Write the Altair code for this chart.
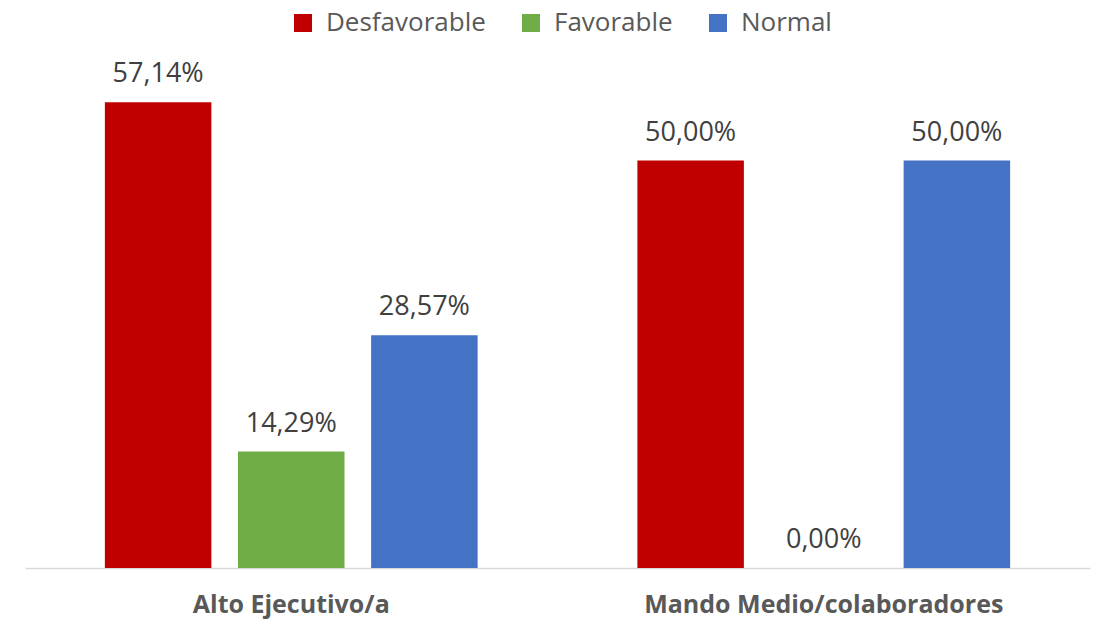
import altair as alt
import pandas as pd

categories = ["Alto Ejecutivo/a", "Mando Medio/colaboradores"]
series = ["Desfavorable", "Favorable", "Normal"]
values = {
    "Desfavorable": [57.14, 50.00],
    "Favorable": [14.29, 0.00],
    "Normal": [28.57, 50.00],
}
colors = ["#C00000", "#70AD47", "#4472C4"]

rows = []
for s in series:
    for c, v in zip(categories, values[s]):
        rows.append({"cat": c, "serie": s, "val": v,
                     "label": f"{v:.2f}".replace(".", ",") + "%"})
df = pd.DataFrame(rows)

FONT = "Open Sans"

base = alt.Chart(df).encode(
    x=alt.X("cat:N", sort=categories, title=None,
            scale=alt.Scale(paddingInner=0.3, paddingOuter=0.15),
            axis=alt.Axis(labelAngle=0, ticks=False, domainColor="#D9D9D9",
                          domainWidth=1.3, labelFontSize=25, labelFontWeight="bold",
                          labelColor="#595959", labelFont=FONT, labelPadding=24,
                          labelLimit=0)),
    xOffset=alt.XOffset("serie:N", sort=series,
                        scale=alt.Scale(paddingInner=0.2, paddingOuter=0)),
    y=alt.Y("val:Q", scale=alt.Scale(domain=[0, 60]), axis=None),
)

bars = base.mark_bar().encode(
    color=alt.Color("serie:N", sort=series,
                    scale=alt.Scale(domain=series, range=colors),
                    legend=alt.Legend(title=None, orient="none", direction="horizontal",
                                      legendX=265, legendY=-69,
                                      symbolType="square", symbolSize=324,
                                      symbolStrokeWidth=0, labelFontSize=26,
                                      labelFont=FONT, labelColor="#595959",
                                      columnPadding=32, labelOffset=10))
)

text = base.mark_text(baseline="alphabetic", dy=-20, fontSize=27, font=FONT,
                      color="#404040").encode(text="label:N")

chart = (bars + text).properties(
    width=1065, height=489,
    autosize=alt.AutoSizeParams(type="none"),
    padding={"left": 17, "top": 71, "right": 5, "bottom": 51},
).configure_view(stroke=None)

chart.save("out.html", embed_options={"renderer": "svg", "actions": False})
